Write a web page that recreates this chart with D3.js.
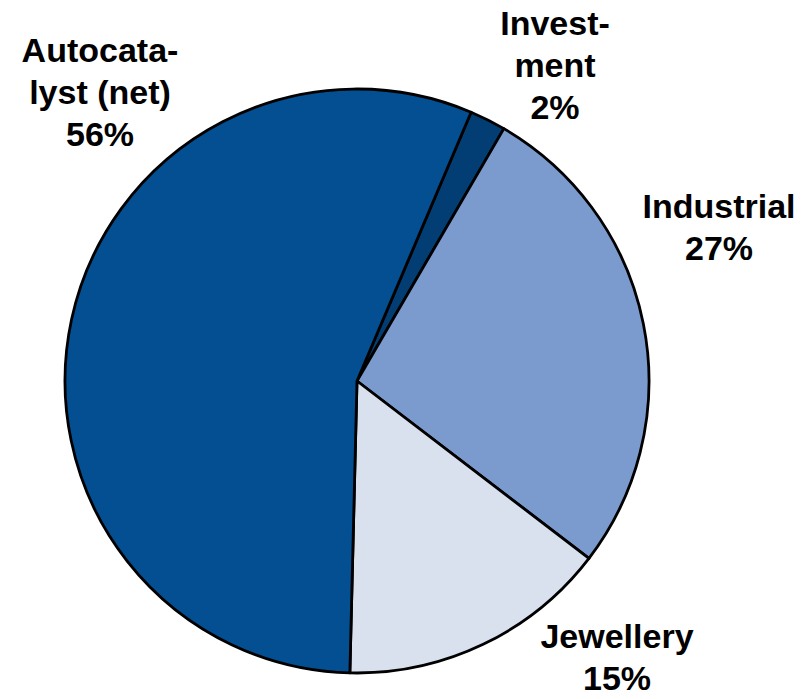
<!DOCTYPE html>
<html>
<head>
<meta charset="utf-8">
<script src="https://cdn.jsdelivr.net/npm/d3@7"></script>
<style>
  html, body { margin: 0; padding: 0; background: #ffffff; }
  svg { display: block; }
  text { font-family: "Liberation Sans", Arial, sans-serif; font-weight: bold; fill: #000; }
</style>
</head>
<body>
<svg id="chart" width="811" height="699"></svg>
<script>
// Demand segments, clockwise from the first slice
const categories = ["Investment", "Industrial", "Jewellery", "Autocatalyst (net)"];
const shares = [2, 27, 15, 56];
const labelLines = [
  ["Invest-", "ment"],
  ["Industrial"],
  ["Jewellery"],
  ["Autocata-", "lyst (net)"]
];
const colors = ["#023e74", "#7b9bcf", "#d9e0ee", "#034f92"];

const width = 811, height = 699;
const cx = 357, cy = 381, radius = 292;
const startDeg = 23;

// Label anchors (centre x, first baseline y) per segment
const labelAnchors = [
  { x: 555, y: 35 },
  { x: 719, y: 218 },
  { x: 617, y: 648 },
  { x: 100, y: 62 }
];
const lineGap = 42;

const svg = d3.select("#chart");
const g = svg.append("g").attr("transform", `translate(${cx},${cy})`);

const data = categories.map((c, i) => ({ name: c, value: shares[i], i }));

const start = startDeg * Math.PI / 180;
const pie = d3.pie()
  .sort(null)
  .value(d => d.value)
  .startAngle(start)
  .endAngle(start + 2 * Math.PI);

const arc = d3.arc().innerRadius(0).outerRadius(radius);

g.selectAll("path.slice")
  .data(pie(data))
  .join("path")
  .attr("class", "slice")
  .attr("d", arc)
  .attr("fill", d => colors[d.data.i])
  .attr("stroke", "#000")
  .attr("stroke-width", 2.8)
  .attr("stroke-linejoin", "round");

// Category labels with percentage on the last line
const labels = svg.selectAll("text.label")
  .data(data)
  .join("text")
  .attr("class", "label")
  .attr("text-anchor", "middle")
  .attr("font-size", 34);

labels.each(function(d) {
  const t = d3.select(this);
  const a = labelAnchors[d.i];
  const lines = labelLines[d.i].concat([d.value + "%"]);
  lines.forEach((ln, k) => {
    t.append("tspan")
      .attr("x", a.x)
      .attr("y", a.y + k * lineGap)
      .text(ln);
  });
});
</script>
</body>
</html>
